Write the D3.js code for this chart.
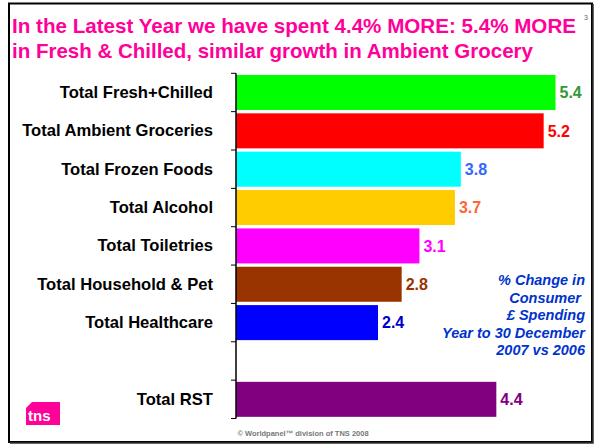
<!DOCTYPE html>
<html>
<head>
<meta charset="utf-8">
<script src="https://cdn.jsdelivr.net/npm/d3@7"></script>
<style>
  body { margin: 0; background: #fff; }
  text { font-family: Arial, "Liberation Sans", sans-serif; }
</style>
</head>
<body>
<div id="chart"></div>
<script>
// categories top to bottom, "" is the empty slot before the total
var categories = ["Total Fresh+Chilled", "Total Ambient Groceries", "Total Frozen Foods",
  "Total Alcohol", "Total Toiletries", "Total Household & Pet", "Total Healthcare", "", "Total RST"];
var values = [5.4, 5.2, 3.8, 3.7, 3.1, 2.8, 2.4, null, 4.4];
var barColors = ["#00ff00", "#ff0000", "#00ffff", "#ffcc00", "#ff00ff", "#993300", "#0000ff", null, "#800080"];
var labelColors = ["#339933", "#ff0000", "#3366ff", "#ff6633", "#ff00ff", "#993300", "#0000cc", null, "#800080"];
var titleLines = ["In the Latest Year we have spent 4.4% MORE: 5.4% MORE",
  "in Fresh & Chilled, similar growth in Ambient Grocery"];
var noteLines = ["% Change in", "Consumer ", "\u00a3 Spending", "Year to 30 December", "2007 vs 2006"];

var W = 596, H = 445;
var svg = d3.select("#chart").append("svg")
  .attr("width", W)
  .attr("height", H);

// slide frame
svg.append("rect")
  .attr("x", 9).attr("y", 3.5)
  .attr("width", 583).attr("height", 438.5)
  .attr("fill", "#fff")
  .attr("stroke", "#000")
  .attr("stroke-width", 2);
svg.append("path")
  .attr("d", "M593,4 L593,443 L10,443")
  .attr("fill", "none")
  .attr("stroke", "#333")
  .attr("stroke-width", 1.5);

// title, stretched a bit like the slide
var titleW = [564, 521];
svg.append("g").selectAll("text")
  .data(titleLines)
  .enter().append("text")
  .attr("x", 12)
  .attr("y", function(d, i) { return 33 + i * 25; })
  .attr("textLength", function(d, i) { return titleW[i]; })
  .attr("lengthAdjust", "spacingAndGlyphs")
  .attr("fill", "#ff0099")
  .style("font-size", "20.5px")
  .style("font-weight", "bold")
  .text(function(d) { return d; });

svg.append("text")
  .attr("x", 584).attr("y", 20)
  .attr("fill", "#666")
  .style("font-size", "7px")
  .text("3");

// scales
var x = d3.scaleLinear().domain([0, 6]).range([236, 591]);
var y = d3.scaleBand().domain(categories).range([73.3, 418.5])
  .paddingInner(0.087).paddingOuter(0.0435);

var g = svg.append("g");

// bars
g.selectAll(".bar")
  .data(categories.filter(function(d, i) { return values[i] != null; }))
  .enter().append("rect")
  .attr("class", "bar")
  .attr("x", x(0))
  .attr("y", function(d) { return y(d); })
  .attr("height", y.bandwidth())
  .attr("width", function(d) { return x(values[categories.indexOf(d)]) - x(0); })
  .attr("fill", function(d) { return barColors[categories.indexOf(d)]; });

// value labels
g.selectAll(".val")
  .data(categories.filter(function(d, i) { return values[i] != null; }))
  .enter().append("text")
  .attr("class", "val")
  .attr("x", function(d) { return x(values[categories.indexOf(d)]) + 4; })
  .attr("y", function(d) { return y(d) + y.bandwidth() / 2; })
  .attr("dy", "0.36em")
  .attr("fill", function(d) { return labelColors[categories.indexOf(d)]; })
  .style("font-size", "16px")
  .style("font-weight", "bold")
  .text(function(d) { return values[categories.indexOf(d)].toFixed(1); });

// category axis, labels only
var axis = g.append("g")
  .attr("transform", "translate(" + x(0) + ",0)")
  .call(d3.axisLeft(y).tickSize(0).tickPadding(23));
axis.select(".domain").remove();
axis.selectAll("text")
  .attr("fill", "#000")
  .style("font-size", "16.6px")
  .style("font-weight", "bold")
  .style("font-family", "Arial, 'Liberation Sans', sans-serif");

// axis line and tick marks at band edges
var r = y.range();
g.append("line")
  .attr("x1", x(0)).attr("x2", x(0))
  .attr("y1", r[0]).attr("y2", r[1])
  .attr("stroke", "#000").attr("stroke-width", 1.5);
g.selectAll(".tick-mark")
  .data(d3.range(categories.length + 1))
  .enter().append("line")
  .attr("class", "tick-mark")
  .attr("x1", x(0) - 5).attr("x2", x(0))
  .attr("y1", function(i) { return r[0] + i * y.step(); })
  .attr("y2", function(i) { return r[0] + i * y.step(); })
  .attr("stroke", "#000").attr("stroke-width", 1);

// side note
svg.append("g").selectAll("text")
  .data(noteLines)
  .enter().append("text")
  .attr("x", 585)
  .attr("y", function(d, i) { return 285 + i * 17.5; })
  .attr("text-anchor", "end")
  .attr("fill", "#0033cc")
  .style("font-size", "14.5px")
  .style("font-weight", "bold")
  .style("font-style", "italic")
  .style("white-space", "pre")
  .text(function(d) { return d; });

// tns logo
svg.append("path")
  .attr("d", "M32,402 L60,402 L60,425 L26,425 L26,408 Z")
  .attr("fill", "#ff0099");
svg.append("text")
  .attr("x", 28).attr("y", 421)
  .attr("fill", "#fff")
  .style("font-size", "15px")
  .style("font-weight", "bold")
  .text("tns");

// footer
svg.append("text")
  .attr("x", 303).attr("y", 436)
  .attr("text-anchor", "middle")
  .attr("fill", "#777")
  .style("font-size", "7.5px")
  .style("font-weight", "bold")
  .text("\u00a9 Worldpanel\u2122 division of TNS 2008");
</script>
</body>
</html>
